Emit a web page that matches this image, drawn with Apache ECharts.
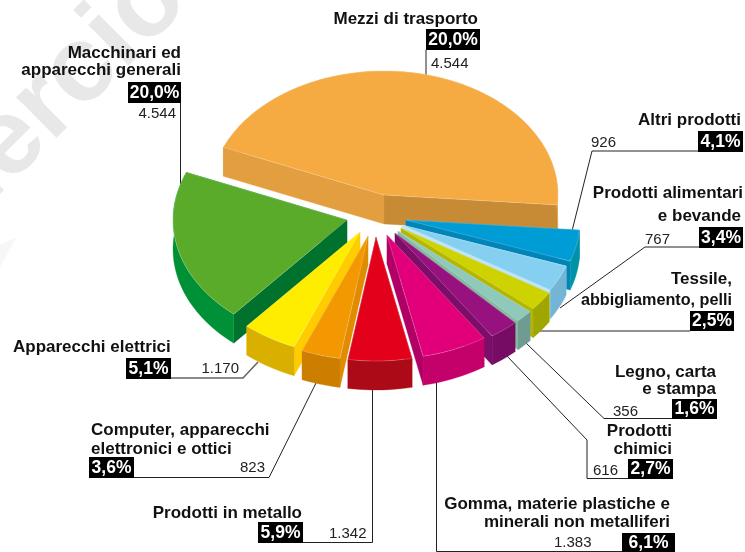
<!DOCTYPE html>
<html>
<head>
<meta charset="utf-8">
<style>html,body{margin:0;padding:0;background:#fff}#c{width:745px;height:552px}</style>
<script src="https://cdn.jsdelivr.net/npm/echarts@6/dist/echarts.min.js"></script>
</head>
<body>
<div id="c"></div>
<script>
// ---- data ----
const categories = ['Mezzi di trasporto','Altri prodotti','Prodotti alimentari\ne bevande','Tessile,\nabbigliamento, pelli','Legno, carta\ne stampa','Prodotti\nchimici','Gomma, materie plastiche e\nminerali non metalliferi','Prodotti in metallo','Computer, apparecchi\nelettronici e ottici','Apparecchi elettrici','Macchinari ed\napparecchi generali'];
// share of the circle each slice occupies in the drawing
const sliceShares = [45.0,4.1,3.4,2.5,1.6,2.7,6.1,5.9,3.6,5.1,20.0];
// printed labels
const percentLabels = ['20,0%','4,1%','3,4%','2,5%','1,6%','2,7%','6,1%','5,9%','3,6%','5,1%','20,0%'];
const amountLabels = ['4.544','926','767','','356','616','1.383','1.342','823','1.170','4.544'];

// ---- style and layout ----
const cx=384, cy=195, rx=174, ry=124, depth=29, startDeg=-4.6;
const explode=[[0,0],[22,25],[18,30],[17,33],[14,36],[11,38],[3,40],[-8,42],[-16,41],[-24,37],[-37,25]];
const drawOrder=[0,1,2,3,4,5,6,10,9,8,7];
// top face, start-edge wall, end-edge wall, outer wall
const colors=[
 ['#f5ab42','#c78a35','#e39f3f','#e39f3f'],
 ['#009cd6','#0085b8','#0085b8','#0093a8'],
 ['#85d0f0','#bfe4f6','#bfe4f6','#74b4d4'],
 ['#cdd200','#b4b600','#b4b600','#a0a600'],
 ['#8ec9bc','#84bc9d','#84bc9d','#6e9c92'],
 ['#98127f','#7c0e6a','#7c0e6a','#760c64'],
 ['#e2007a','#b00066','#b00066','#c4006a'],
 ['#e2001a','#ac0a16','#ac0a16','#ac0a16'],
 ['#f39800','#e08c00','#e08c00','#cc7e00'],
 ['#ffed00','#ffcc00','#ffcc00','#d9b000'],
 ['#5aab29','#00722e','#00722e','#009036']
];
const layout=[
 {names:[[478,19,'right']],box:[426,29,480,50],amt:[431,64,'left'],leader:[[426,50],[426,75]]},
 {names:[[741,120,'right']],box:[698,131,743,152],amt:[591,143,'left'],leader:[[698,151],[592,151],[572,231]]},
 {names:[[743,193,'right'],[741,216,'right']],box:[699,227,743,248],amt:[645,240,'left'],leader:[[699,247],[645,247],[560,308]]},
 {names:[[732,279,'right'],[732,301,'right',16.2]],box:[690,311,734,331],amt:null,leader:[[690,331],[537,331]]},
 {names:[[716,372,'right'],[716,389,'right']],box:[672,399,717,419],amt:[613,412,'left'],leader:[[672,418.5],[604,418.5],[526,343]]},
 {names:[[672,431,'right'],[672,449,'right']],box:[628,459,673,479],amt:[593,471,'left'],leader:[[628,478.5],[587,478.5],[587,440],[507,356]]},
 {names:[[670,504,'right'],[670,522,'right']],box:[622,533,675,552],amt:[554,543,'left'],leader:[[622,551.5],[436.5,551.5],[436.5,380]]},
 {names:[[302,513,'right']],box:[258,522,303,543],amt:[329,534,'left'],leader:[[303,542.5],[372.5,542.5],[372.5,385]]},
 {names:[[91,430,'left'],[91,449,'left']],box:[89,457,134,478],amt:[265,468,'right'],leader:[[134,477.5],[269,477.5],[316,383]]},
 {names:[[13,347,'left']],box:[126,358,171,379],amt:[239,369,'right'],leader:[[171,378],[243,378],[258,362]],grey:true},
 {names:[[181,53,'right'],[181,70,'right']],box:[128,82,181,103],amt:[176,114,'right'],leader:[[180.5,103],[180.5,184]]}
];
const nameSize=17, pctFont='bold 17.5px "Liberation Sans"', amtFont='15px "Liberation Sans"';

// ---- slice geometry from shares ----
const total=sliceShares.reduce((a,b)=>a+b,0);
const bounds=[]; let ang=startDeg;
sliceShares.forEach((s,i)=>{
  // first slice runs counter-clockwise from the start angle, the rest clockwise after it
  if(i===0){bounds.push([startDeg,startDeg+s/total*360]);}
  else{const a=ang; ang-=s/total*360; bounds.push([a,ang]);}
});
function pt(a,ox,oy,d){const r=a*Math.PI/180;return [cx+ox+rx*Math.cos(r),cy+oy-ry*Math.sin(r)+d];}
function arc(a0,a1,ox,oy,d){const n=Math.max(4,Math.ceil(Math.abs(a1-a0)/2)),p=[];for(let k=0;k<=n;k++)p.push(pt(a0+(a1-a0)*k/n,ox,oy,d));return p;}
function poly(points,fill,stroke){return {type:'polygon',shape:{points},style:{fill,stroke:stroke||fill,lineWidth:stroke?0.6:0.3},silent:true};}

function renderSlice(params,api){
  const i=api.value(0),[a0,a1]=bounds[i],[ox,oy]=explode[i],c=colors[i];
  const ax=cx+ox,ay=cy+oy;
  const topArc=arc(a0,a1,ox,oy,0),botArc=arc(a0,a1,ox,oy,depth).reverse();
  const s=topArc[0],e=topArc[topArc.length-1];
  const kids=[
    poly([[ax,ay],s,[s[0],s[1]+depth],[ax,ay+depth]],c[1]),
    poly([[ax,ay],e,[e[0],e[1]+depth],[ax,ay+depth]],c[2]),
    poly(topArc.concat(botArc),c[3]),
    poly([[ax,ay]].concat(topArc),c[0],'rgba(255,255,255,0.35)')
  ];
  return {type:'group',children:kids};
}

// ---- labels ----
const g=[];
g.push({type:'text',x:-250,y:402,rotation:45*Math.PI/180,z:0,style:{text:'Commercio d',font:'bold 108px "Liberation Sans"',fill:'#e8e8e8',align:'left',verticalAlign:'middle'}});
g.push({type:'polygon',z:0,shape:{points:[[0,267],[0,245],[17,237]]},style:{fill:'#f7f7f7'}});
layout.forEach((l,i)=>{
  g.push({type:'polyline',z:1,shape:{points:l.leader},style:{stroke:l.grey?'#666':'#222',lineWidth:l.grey?1.6:1,fill:null}});
  categories[i].split('\n').forEach((t,k)=>{
    const n=l.names[k];
    g.push({type:'text',x:n[0],y:n[1],z:5,style:{text:t,font:'bold '+(n[3]||nameSize)+'px "Liberation Sans"',fill:'#111',align:n[2],verticalAlign:'middle'}});
  });
  const b=l.box;
  g.push({type:'rect',z:4,shape:{x:b[0],y:b[1],width:b[2]-b[0],height:b[3]-b[1]},style:{fill:'#000'}});
  g.push({type:'text',x:(b[0]+b[2])/2,y:(b[1]+b[3])/2+0.5,z:5,style:{text:percentLabels[i],font:pctFont,fill:'#fff',align:'center',verticalAlign:'middle'}});
  if(l.amt) g.push({type:'text',x:l.amt[0],y:l.amt[1],z:5,style:{text:amountLabels[i],font:amtFont,fill:'#222',align:l.amt[2],verticalAlign:'middle'}});
});

const chart=echarts.init(document.getElementById('c'),null,{renderer:'canvas'});
chart.setOption({
  animation:false,
  backgroundColor:'#fff',
  graphic:{elements:g},
  series:[{
    type:'custom',
    coordinateSystem:'none',
    z:3,
    silent:true,
    renderItem:renderSlice,
    data:drawOrder.map(i=>[i,sliceShares[i]])
  }]
});
</script>
</body>
</html>
